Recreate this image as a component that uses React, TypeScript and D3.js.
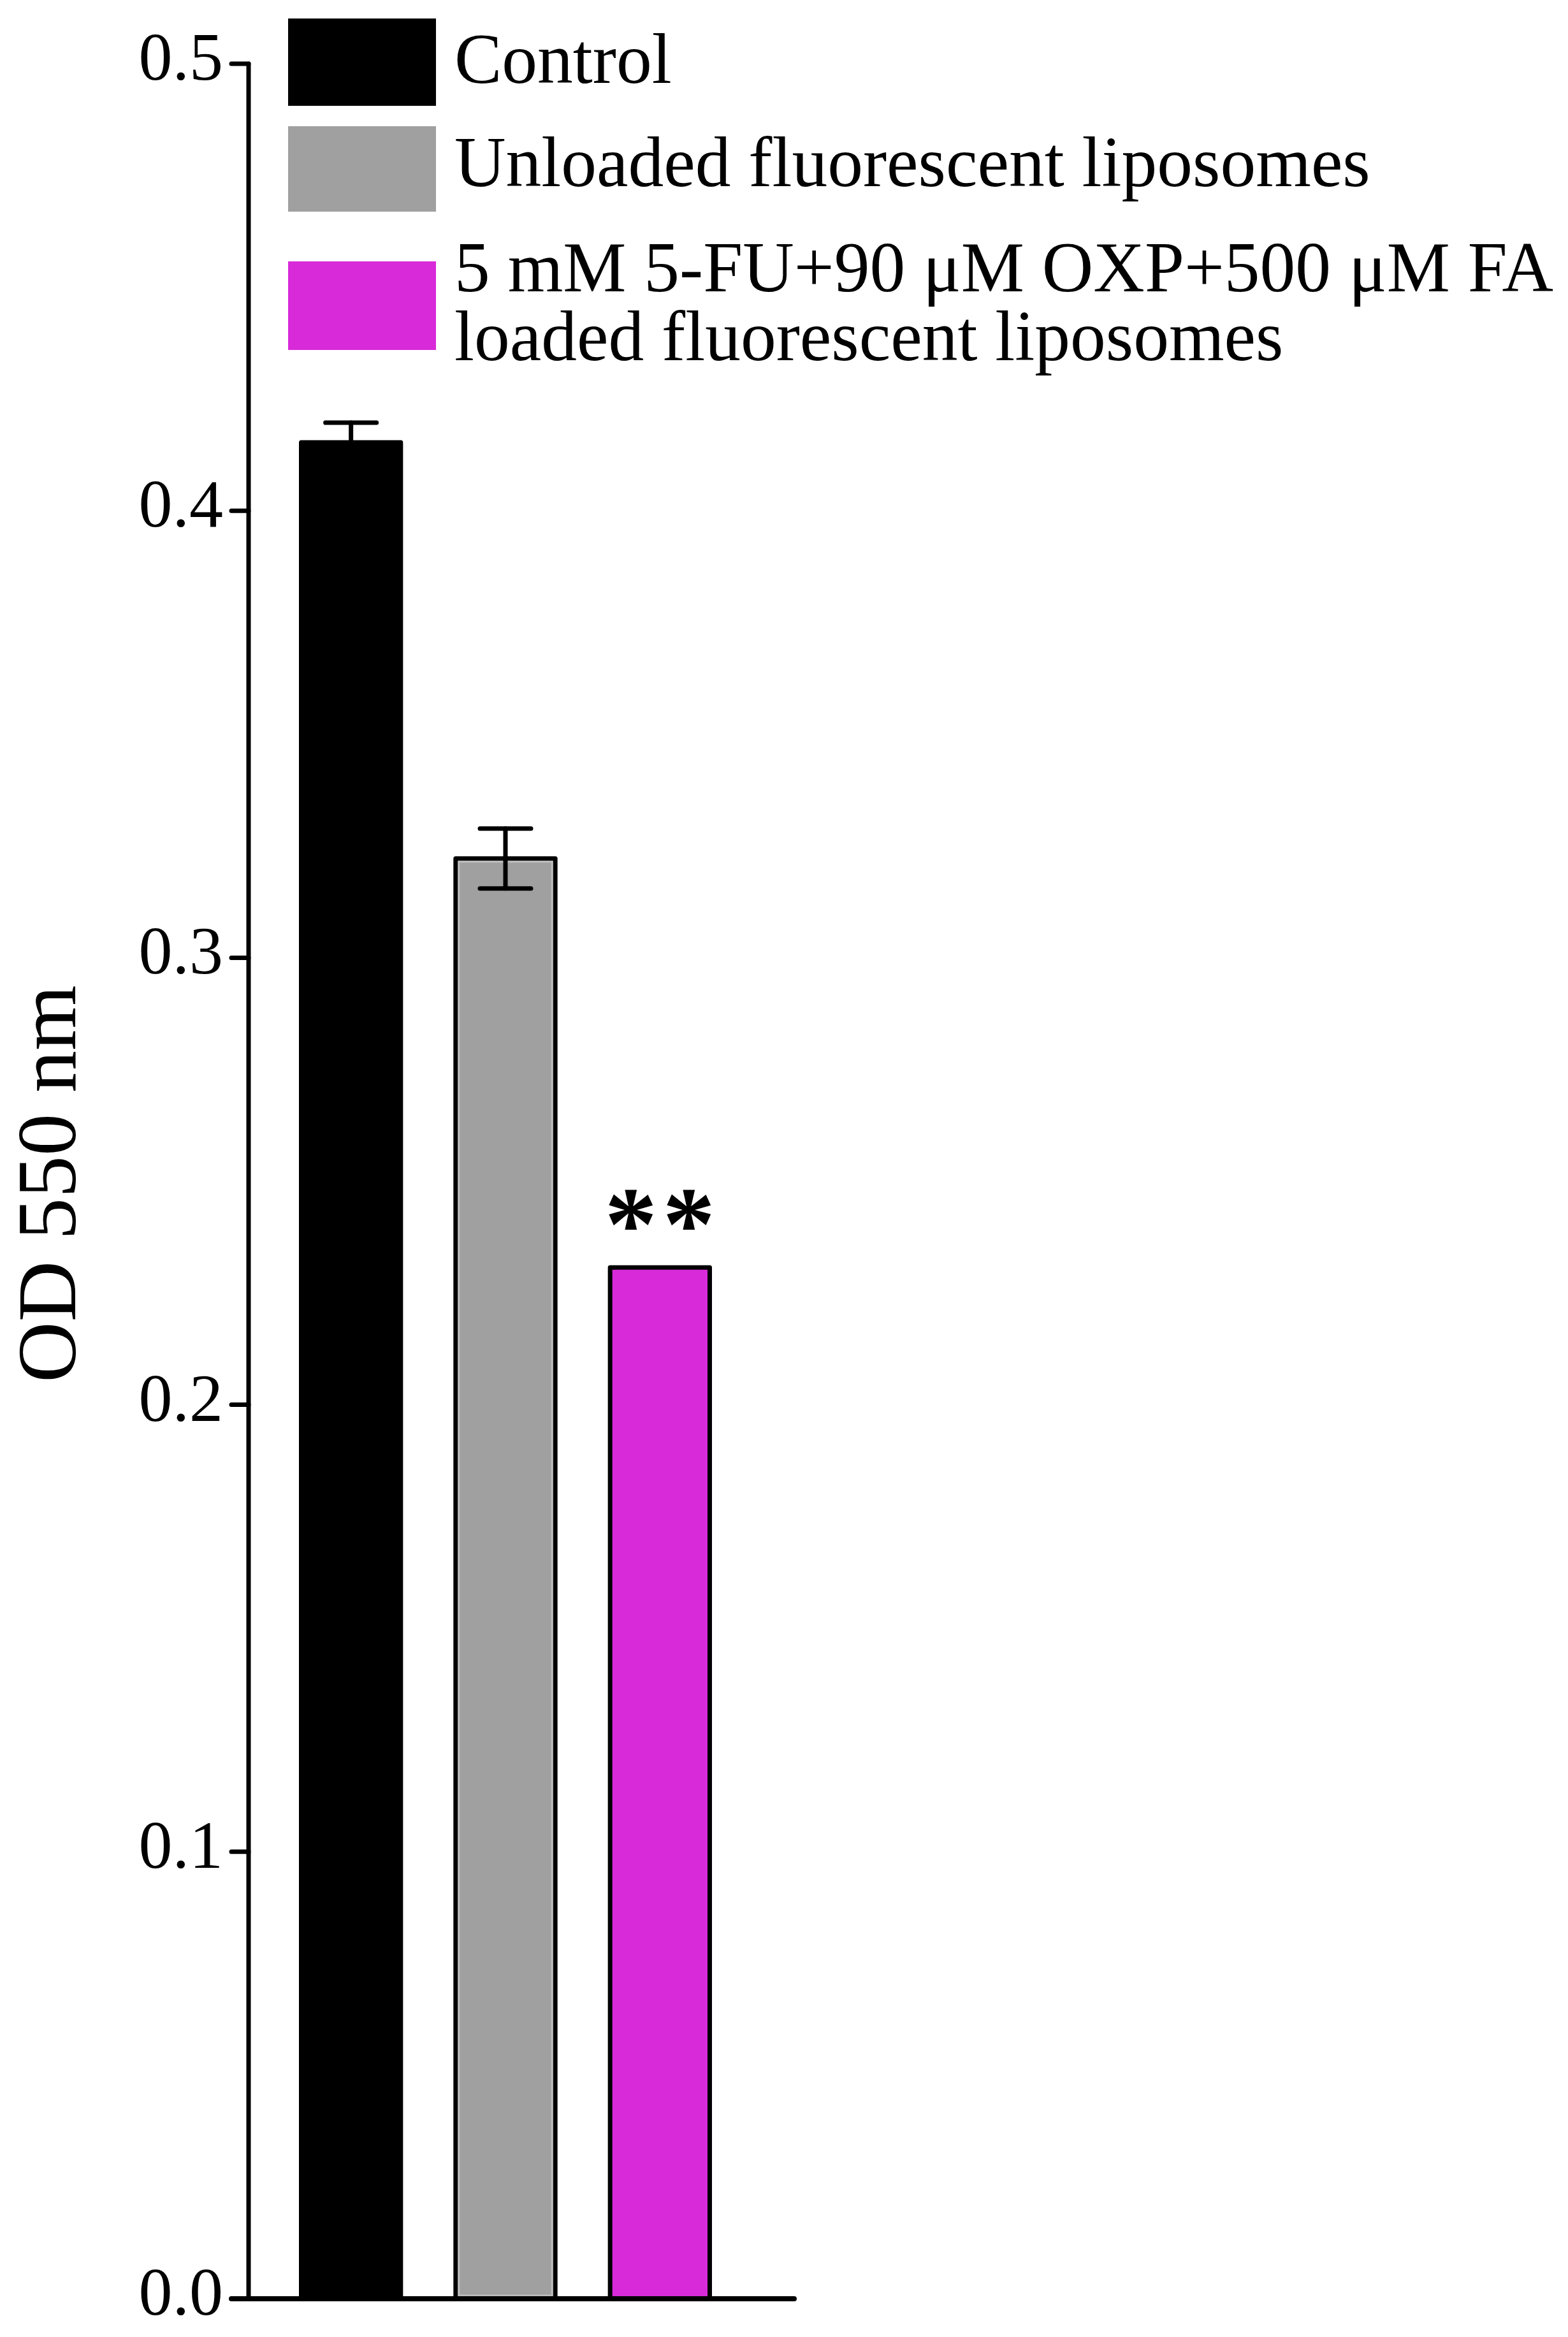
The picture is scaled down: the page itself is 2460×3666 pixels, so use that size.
import React from "react";
import * as d3 from "d3";

const categories = ["Control", "Unloaded fluorescent liposomes", "5 mM 5-FU+90 μM OXP+500 μM FA loaded fluorescent liposomes"];
const values = [0.4153, 0.3222, 0.2307];
const errors = [0.0044, 0.0067, 0];
const fills = ["#000000", "#a0a0a0", "#d82ad8"];
const legendLines = [["Control"], ["Unloaded fluorescent liposomes"], ["5 mM 5-FU+90 μM OXP+500 μM FA", "loaded fluorescent liposomes"]];
const yTicks = [0, 0.1, 0.2, 0.3, 0.4, 0.5];
const significance = ["", "", "**"];

const W = 2460;
const H = 3666;
const FONT = "'Liberation Serif', 'Times New Roman', serif";

export default function App() {
  const axisX = 390;
  const y = d3.scaleLinear().domain([0, 0.5]).range([3606, 100]);
  const x = d3.scaleBand<string>().domain(categories).range([390, 1196]).paddingInner(0.326).paddingOuter(0.326);
  const bw = x.bandwidth();
  const sw = 7;

  const legendBoxes = [
    { y0: 29, y1: 166, base: [130] },
    { y0: 198, y1: 332, base: [292] },
    { y0: 410, y1: 549, base: [457, 565] },
  ];

  return (
    <svg width={W} height={H} style={{ position: "absolute", left: 0, top: 0, background: "#fff" }} fontFamily={FONT}>
      <rect x={0} y={0} width={W} height={H} fill="#fff" />
      {/* bars */}
      {categories.map((c, i) => {
        const x0 = (x(c) as number) + sw / 2;
        const w = bw - sw;
        const yt = y(values[i]);
        return (
          <g key={c}>
            <rect x={x0} y={yt} width={w} height={y(0) - yt} fill={fills[i]} stroke="#000" strokeWidth={sw} strokeLinejoin="round" />
            {i === 1 && (
              <rect x={x0 + sw / 2 + 1.5} y={yt + sw / 2 + 1.5} width={w - sw - 3} height={y(0) - yt - sw - 3} fill="none" stroke="#bdbdbd" strokeWidth={3} />
            )}
          </g>
        );
      })}
      {/* error bars */}
      {categories.map((c, i) => {
        if (!errors[i]) return null;
        const cx = (x(c) as number) + bw / 2;
        const hi = y(values[i] + errors[i]);
        const lo = y(values[i] - errors[i]);
        return (
          <g key={"e" + c} stroke="#000" strokeWidth={7} strokeLinecap="round">
            <line x1={cx} x2={cx} y1={hi} y2={lo} />
            <line x1={cx - 40} x2={cx + 40} y1={hi} y2={hi} />
            <line x1={cx - 40} x2={cx + 40} y1={lo} y2={lo} />
          </g>
        );
      })}
      {/* significance */}
      {categories.map((c, i) => {
        if (!significance[i]) return null;
        const cx = (x(c) as number) + bw / 2;
        return (
          <g key={"s" + c}>
            {significance[i].split("").map((s, k, arr) => (
              <text key={k} x={cx + (k - (arr.length - 1) / 2) * 91} y={y(values[i]) - 12} textAnchor="middle" fontSize={165} fontWeight="bold" fill="#000">
                {s}
              </text>
            ))}
          </g>
        );
      })}
      {/* axes */}
      <line x1={axisX} x2={axisX} y1={y(0.5)} y2={y(0)} stroke="#000" strokeWidth={7} strokeLinecap="round" />
      <line x1={363} x2={1246} y1={y(0)} y2={y(0)} stroke="#000" strokeWidth={8} strokeLinecap="round" />
      {yTicks.map((t) => (
        <g key={t}>
          <line x1={363} x2={axisX} y1={y(t)} y2={y(t)} stroke="#000" strokeWidth={7} strokeLinecap="round" />
          <text x={350} y={y(t) + 25} textAnchor="end" fontSize={106} fill="#000">
            {d3.format(".1f")(t)}
          </text>
        </g>
      ))}
      <text transform={`translate(118, 1857) rotate(-90)`} textAnchor="middle" fontSize={132} fill="#000">
        OD 550 nm
      </text>
      {/* legend */}
      {legendLines.map((lines, i) => (
        <g key={"l" + i}>
          <rect x={452} y={legendBoxes[i].y0} width={232} height={legendBoxes[i].y1 - legendBoxes[i].y0} fill={fills[i]} />
          {lines.map((ln, k) => (
            <text key={k} x={713} y={legendBoxes[i].base[k]} fontSize={111.5} fill="#000">
              {ln}
            </text>
          ))}
        </g>
      ))}
    </svg>
  );
}
